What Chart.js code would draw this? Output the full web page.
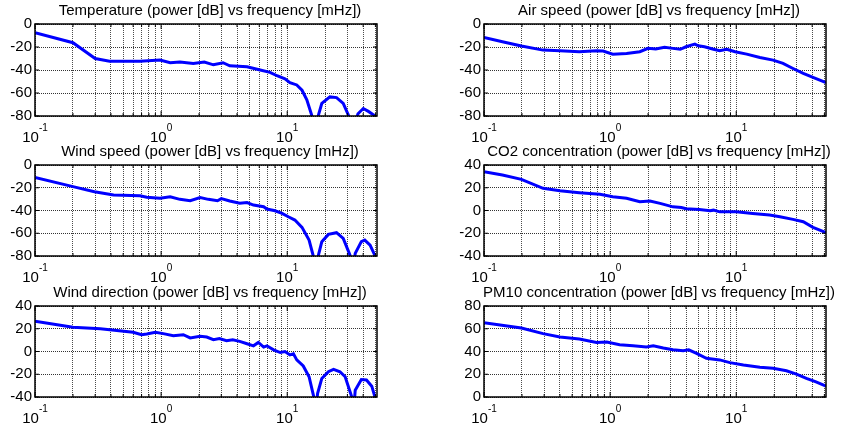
<!DOCTYPE html>
<html>
<head>
<meta charset="utf-8">
<script src="https://cdn.jsdelivr.net/npm/chart.js@4.4.0/dist/chart.umd.min.js"></script>
<style>
  body { margin: 0; background: #fff; width: 841px; height: 435px; position: relative; overflow: hidden; }
  canvas { position: absolute; }
</style>
</head>
<body>
<canvas id="c0"></canvas>
<canvas id="c1"></canvas>
<canvas id="c2"></canvas>
<canvas id="c3"></canvas>
<canvas id="c4"></canvas>
<canvas id="c5"></canvas>
<script>
// frequency grid (mHz) and labelled decades
const xTicks = [0.1, 0.2, 0.3, 0.4, 0.5, 0.6, 0.7, 0.8, 0.9, 1, 2, 3, 4, 5, 6, 7, 8, 9, 10, 20, 30, 40, 50];
const xMajor = [0.1, 1, 10];
const xExp = ['-1', '0', '1'];

const titles = [
  'Temperature (power [dB] vs frequency [mHz])',
  'Air speed (power [dB] vs frequency [mHz])',
  'Wind speed (power [dB] vs frequency [mHz])',
  'CO2 concentration (power [dB] vs frequency [mHz])',
  'Wind direction (power [dB] vs frequency [mHz])',
  'PM10 concentration (power [dB] vs frequency [mHz])'
];

// y ranges per panel [min, max]
const yRanges = [[-80, 0], [-80, 0], [-80, 0], [-40, 40], [-40, 40], [0, 80]];

const tempF = [0.1, 0.2, 0.3, 0.39, 0.68, 0.98, 1.18, 1.41, 1.8, 2.2, 2.6, 3.1, 3.5, 4.8, 6.1, 7.3, 8.3, 9.6, 10.5, 11.9, 13.1, 14.3, 15.6, 16.2, 17.7, 18.8, 21.8, 24.6, 27.8, 30.5, 32.5, 36.4, 40.1, 44, 48.3, 51.5];
const tempDb = [-7.6, -16.3, -30, -32.3, -32.3, -31.4, -33.7, -33, -34.3, -33, -35.5, -33.7, -36.3, -37.2, -40, -42, -45, -47.7, -51, -53, -57.6, -66, -79, -95, -79, -69, -63.4, -64, -69, -79, -95, -78, -73.5, -76, -79, -82];

const airF = [0.1, 0.14, 0.198, 0.294, 0.4, 0.57, 0.78, 0.88, 1.05, 1.35, 1.72, 2.0, 2.3, 2.7, 3.15, 3.6, 4.0, 4.7, 5.0, 5.6, 6.6, 7.4, 8.4, 9.8, 12.1, 15.4, 19.6, 23.5, 28.2, 34, 40.6, 51.5];
const airDb = [-11.6, -15.4, -19.2, -22.7, -23.3, -24.1, -23.3, -23.5, -26.2, -25.6, -24.1, -21.2, -21.8, -20.3, -21.2, -22, -19.8, -17.5, -19, -19.8, -22, -23.3, -22, -24.1, -26.2, -29.1, -31.4, -34.3, -38.7, -43, -46.5, -51];

const windF = [0.1, 0.2, 0.296, 0.42, 0.68, 0.77, 0.98, 1.18, 1.41, 1.7, 2.04, 2.37, 2.8, 3.0, 3.5, 4.2, 4.8, 5.4, 6.5, 6.9, 8.0, 9.1, 10.2, 11.5, 13.1, 14.9, 16.0, 16.7, 17.7, 18.8, 21.2, 24.6, 27.8, 31.4, 33, 34.6, 38.7, 41.2, 45.4, 49.8, 51.5];
const windDb = [-10.9, -19, -23.5, -26.4, -27, -28.4, -29.3, -27.9, -30.2, -31.4, -28.7, -30.2, -31.4, -29.6, -31.7, -33.7, -33, -35.2, -36.7, -38.7, -40.2, -42.5, -45.5, -48.4, -54.8, -66, -79, -95, -79, -67.4, -61, -59.5, -64.5, -79, -95, -77.7, -67.4, -66, -70.4, -80, -85];

const co2F = [0.1, 0.14, 0.198, 0.294, 0.4, 0.57, 0.83, 1.05, 1.35, 1.72, 2.07, 2.49, 3.15, 3.67, 4.0, 5.1, 6.2, 6.6, 7.4, 10, 13.5, 18.4, 22.2, 28.2, 34, 40.6, 51.5];
const co2Db = [34.1, 31.2, 27.4, 19.5, 17.4, 15.7, 14.2, 12.1, 10.7, 7.7, 8.3, 6.3, 3.2, 2.6, 1.5, 0.9, -0.3, 0.3, -1.2, -1.2, -2.6, -4, -5.5, -7.8, -9.9, -14.8, -19.5];

const dirF = [0.1, 0.2, 0.33, 0.6, 0.7, 0.77, 0.9, 1.04, 1.25, 1.5, 1.7, 2.04, 2.3, 2.6, 2.9, 3.3, 3.7, 4.2, 4.8, 5.4, 5.9, 6.5, 6.9, 7.8, 8.8, 9.6, 10.5, 11.2, 11.9, 13.4, 14.9, 16.2, 16.8, 17.4, 18.8, 21.2, 23.3, 26.2, 28.8, 32.5, 33.5, 34.6, 38.7, 42.5, 46.8, 49.8, 51.5];
const dirDb = [26.7, 21.3, 19.9, 16.9, 14.8, 15.4, 16.9, 15.7, 13.9, 14.8, 11.9, 13.3, 12.7, 10.4, 11.3, 9.5, 10.4, 8.9, 6.8, 5.0, 8.0, 3.9, 5.0, 1.5, -0.9, 0, -3, -2, -7.4, -12.7, -22.2, -39.4, -55, -37, -23.7, -17.8, -15.7, -17.8, -22.2, -40, -55, -34, -24.6, -25, -30.5, -40.6, -45];

const pmF = [0.1, 0.198, 0.294, 0.4, 0.57, 0.78, 0.94, 1.19, 1.52, 1.94, 2.2, 2.64, 3.15, 3.8, 4.2, 4.8, 5.8, 7.4, 8.9, 11.4, 15.4, 19.6, 25, 30, 36, 42.9, 51.5];
const pmDb = [65.2, 60.7, 55.7, 52.7, 51, 48, 48.3, 45.9, 45, 43.9, 45, 43, 41.5, 40.6, 41.5, 38.5, 34, 32.6, 30.2, 28.1, 26.1, 25.2, 23.1, 20.1, 16.3, 13.3, 9.5];

const series = [[tempF, tempDb], [airF, airDb], [windF, windDb], [co2F, co2Db], [dirF, dirDb], [pmF, pmDb]];

// canvas placement: left, top, width, height, plot bottom inside canvas, right padding
const boxes = [
  [0, 0, 400, 150, 116, 23],
  [449, 0, 392, 150, 116, 15],
  [0, 141, 400, 150, 115, 23],
  [449, 141, 392, 150, 115, 15],
  [0, 282, 400, 153, 115, 23],
  [449, 282, 392, 153, 115, 15]
];

const FONT = '"Liberation Sans", Arial, Helvetica, sans-serif';

const framePlugin = {
  id: 'frame',
  afterDraw(chart, args, opts) {
    const { ctx, chartArea: a, scales: { x, y } } = chart;
    const line = (x1, y1, x2, y2) => { ctx.beginPath(); ctx.moveTo(x1, y1); ctx.lineTo(x2, y2); ctx.stroke(); };
    ctx.save();
    ctx.strokeStyle = '#000';
    ctx.lineWidth = 1;
    xTicks.forEach(v => {
      const px = x.getPixelForValue(v);
      const len = xMajor.includes(v) ? 5 : 3;
      line(px, a.bottom, px, a.bottom - len);
      line(px, a.top, px, a.top + len);
    });
    y.ticks.forEach(t => {
      const py = y.getPixelForValue(t.value);
      line(a.left, py, a.left + 4, py);
      line(a.right, py, a.right - 4, py);
    });
    ctx.lineWidth = 1.5;
    ctx.strokeRect(a.left, a.top, a.right - a.left, a.bottom - a.top);

    ctx.fillStyle = '#000';
    ctx.textAlign = 'left';
    ctx.textBaseline = 'alphabetic';
    xMajor.forEach((v, i) => {
      const px = x.getPixelForValue(v);
      ctx.font = '15px ' + FONT;
      const w1 = ctx.measureText('10').width;
      ctx.font = '10px ' + FONT;
      const w2 = ctx.measureText(xExp[i]).width;
      const sx = px - (w1 + w2) / 2;
      ctx.font = '15px ' + FONT;
      ctx.fillText('10', sx, a.bottom + 26);
      ctx.font = '10px ' + FONT;
      ctx.fillText(xExp[i], sx + w1, a.bottom + 15);
    });

    ctx.font = '15px ' + FONT;
    ctx.textAlign = 'center';
    ctx.fillText(opts.text, (a.left + a.right) / 2 + 4, a.top - 9);
    ctx.restore();
  }
};

series.forEach((s, i) => {
  const [left, top, w, h, plotBottom, padRight] = boxes[i];
  const cv = document.getElementById('c' + i);
  cv.width = w; cv.height = h;
  cv.style.left = left + 'px'; cv.style.top = top + 'px';
  cv.style.width = w + 'px'; cv.style.height = h + 'px';
  const [freq, db] = s;
  new Chart(cv.getContext('2d'), {
    type: 'line',
    data: {
      datasets: [{
        data: freq.map((f, k) => ({ x: f, y: db[k] })),
        borderColor: '#0000ff',
        borderWidth: 3,
        pointRadius: 0,
        tension: 0,
        fill: false
      }]
    },
    options: {
      responsive: false,
      animation: false,
      layout: { padding: { top: 24, right: padRight, left: 0, bottom: 0 } },
      plugins: {
        legend: { display: false },
        tooltip: { enabled: false },
        frame: { text: titles[i] }
      },
      scales: {
        x: {
          type: 'logarithmic',
          min: 0.1,
          max: 51.5,
          afterBuildTicks: sc => { sc.ticks = xTicks.map(v => ({ value: v })); },
          afterFit: sc => { sc.height = h - plotBottom; },
          ticks: { display: false },
          grid: { color: 'rgba(0,0,0,0.7)', lineWidth: 1, drawTicks: false },
          border: { display: false, dash: [1, 1] }
        },
        y: {
          min: yRanges[i][0],
          max: yRanges[i][1],
          afterFit: sc => { sc.width = 35; },
          ticks: { stepSize: 20, color: '#000', font: { size: 15, family: FONT }, padding: 3 },
          grid: { color: 'rgba(0,0,0,0.8)', lineWidth: 1, drawTicks: false },
          border: { display: false, dash: [1, 1] }
        }
      }
    },
    plugins: [framePlugin]
  });
});
</script>
</body>
</html>
